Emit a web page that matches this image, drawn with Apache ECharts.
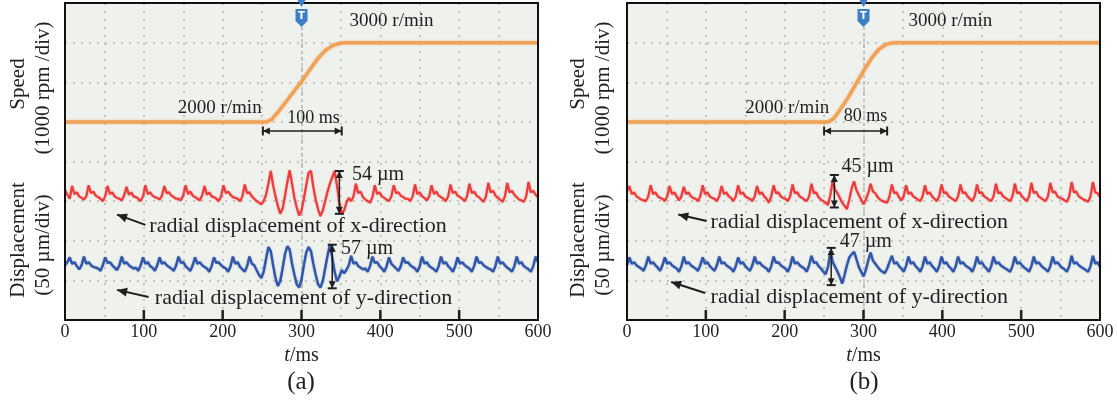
<!DOCTYPE html>
<html>
<head>
<meta charset="utf-8">
<title>Speed step and radial displacement</title>
<script src="https://cdn.jsdelivr.net/npm/echarts@6/dist/echarts.min.js"></script>
<style>
  html, body { margin: 0; padding: 0; background: #fff; }
  #chart { width: 1117px; height: 402px; }
</style>
</head>
<body>
<div id="chart"></div>
<script>
// time axis (ms)
const timeTicks = [0, 100, 200, 300, 400, 500, 600];
const sampleStepMs = 3; // displacement traces were read every 3 ms

// speed traces, [ms, r/min]
const speedA = [[0, 2000], [256, 2000], [262, 2030], [270, 2120], [280, 2250], [290, 2380], [300, 2510],
  [310, 2650], [320, 2790], [330, 2900], [340, 2965], [350, 2995], [358, 3000], [600, 3000]];
const speedB = [[0, 2000], [255, 2000], [262, 2040], [270, 2150], [280, 2300], [290, 2470], [300, 2640],
  [310, 2800], [320, 2920], [328, 2975], [338, 3000], [600, 3000]];

// radial displacement, µm about each trace's own baseline
const dispXA = [6,0,-5,11,1,3,-2,-4,-6,-2, 12,2,4,-1,-3,-5,-8,-2,11,1, 3,-2,-4,-5,-7,-1,10,0,3,-2,
  -3,-5,-8,-2,12,1,3,-1,-3,-4, -6,-1,11,2,3,-1,-3,-5,-5,-7, -1,12,1,4,-1,-3,-5,-7,-1,11,
  0,3,-2,-3,-5,-8,-2,12,2,4, 0,-3,-4,-5,-8,-2,13,2,3,-2, -5,-8,-10,-12,-8,0,14,30,12,-2,
  -14,-24,-18,-2,16,31,14,-4,-16,-26, -20,-5,12,28,30,10,-6,-18,-27,-20, -8,4,14,22,30,12,-10,-24,-20,-10,
  -4,-8,-2,14,2,4,-3,-6,-8,-10, -3,12,1,3,-2,-4,-6,-8,-2,12, 2,3,-1,-3,-5,-5,-8,-2,13,1,
  3,-2,-4,-7,-2,12,1,4,-1,-3, -5,-8,-2,13,2,4,-1,-3,-5,-8, -2,14,2,4,-1,-3,-6,-9,-2,15,
  3,5,-1,-4,-6,-9,-2,15,3,5, 0,-3,-6,-7,-9,-2,16,3,5,0, -3];
const dispYA = [-2,2,8,0,2,-3,-7,-2,9,0, 2,-2,-4,-5,-6,-9,-2,8,1,2, -2,-5,-8,-2,9,0,2,-2,-4,-6,
  -5,-9,-2,8,0,2,-3,-5,-9,-2, 8,0,2,-2,-4,-6,-9,-2,9,1, 2,-3,-6,-9,-2,8,0,2,-2,-4,
  -6,-10,-3,8,1,2,-2,-4,-6,-10, -3,9,0,2,-4,-7,-10,-3,9,0, -2,-8,-14,-18,-10,6,21,16,-2,-18,
  -28,-22,-6,12,22,18,0,-14,-26,-30, -20,-2,14,21,16,0,-14,-26,-30,-22, -6,10,24,8,-10,-22,-16,-8,-12,-8,
  -2,10,0,2,-3,-5,-7,-6,-10,-3, 9,1,2,-3,-6,-10,-3,8,0,-3, -6,-9,-3,8,1,2,-2,-4,-6,-10,
  -3,9,0,2,-3,-5,-7,-10,-3,9, 0,2,-3,-6,-10,-3,8,0,2,-2, -4,-6,-10,-3,9,1,2,-2,-4,-6,
  -7,-10,-3,9,0,2,-2,-5,-7,-10, -3,9,0,2,-3,-5,-7,-10,-3,9, 2];
const dispXB = [4,11,1,3,-2,-4,-6,-7,-8,-2, 12,1,3,-2,-4,-5,-8,-2,11,1, 3,-2,-7,-2,10,1,3,-2,-4,-5,
  -8,-2,12,1,3,-2,-4,-5,-8,-2, 11,1,3,-2,-4,-8,-2,12,1,3, -2,-4,-5,-8,-2,11,1,3,-2,-5,
  -10,-2,12,2,3,-2,-4,-5,-8,-2, 13,2,3,-2,-4,-6,-8,-2,14,2, 3,-3,-6,-8,-10,-13,0,18,6,2,
  -4,-10,-14,-18,-6,8,17,6,0,-6, -12,-6,2,14,4,2,-3,-6,-8,-9, -10,-2,13,2,3,-3,-7,-2,12,1,
  3,-2,-4,-6,-8,-2,12,1,3,-2, -5,-8,-2,13,2,3,-2,-4,-6,-8, -2,13,2,3,-2,-5,-8,-2,13,2,
  3,-2,-4,-6,-8,-2,14,2,3,-2, -4,-6,-8,-2,14,2,3,-2,-5,-8, -2,15,2,4,-2,-4,-6,-8,-2,15,
  3,4,-2,-4,-5,-7,-9,-2,16,3, 4,-2,-4,-6,-7,-9,-2,16,3,2, -3];
const dispYB = [-2,8,0,2,-2,-4,-6,-9,-2,9, 0,2,-2,-5,-9,-2,8,0,2,-2, -4,-6,-10,-3,9,0,2,-2,-4,-6,
  -9,-2,8,0,2,-3,-6,-9,-2,9, 0,2,-2,-4,-6,-10,-3,8,0,2, -3,-6,-9,-2,9,0,2,-2,-4,-6,
  -10,-3,9,1,2,-2,-4,-6,-10,-3, 9,0,2,-2,-4,-6,-10,-2,10,1, 2,-3,-6,-10,-13,-4,16,2,-4,-10,
  -17,-25,-14,-2,8,12,15,6,-4,-10, -16,-8,4,14,4,0,-4,-8,-10,-12, -6,2,10,0,2,-3,-6,-10,-3,9,
  0,2,-3,-6,-10,-3,9,0,2,-3, -6,-10,-3,9,0,2,-3,-6,-10,-3, 9,0,2,-2,-4,-6,-10,-3,9,0,
  2,-3,-6,-10,-3,9,0,2,-2,-4, -6,-8,-10,-3,9,0,2,-2,-5,-7, -10,-3,9,0,2,-2,-5,-7,-10,-3,
  9,0,2,-2,-5,-7,-10,-3,10,0, 2,-2,-4,-6,-8,-10,-3,10,0,2, -4];

const FONT = '"Liberation Serif", "DejaVu Serif", serif';
const INK = '#1f1f1f';
const DOT = '#b3b8b3';

const chart = echarts.init(document.getElementById('chart'));

const panels = [
  { left: 65, speed: speedA, x: dispXA, y: dispYA },
  { left: 627, speed: speedB, x: dispXB, y: dispYB }
];

const toSeries = (vals) => vals.map((v, i) => [i * sampleStepMs, v]);

const grids = [], xAxes = [], yAxes = [], series = [];
panels.forEach((p, i) => {
  grids.push({
    left: p.left, top: 3, width: 473, height: 317, show: true,
    backgroundColor: '#eef1ec', borderWidth: 0
  });
  // main time axis with labels
  xAxes.push({
    gridIndex: i, type: 'value', min: timeTicks[0], max: timeTicks[timeTicks.length - 1], interval: 100,
    position: 'bottom',
    axisLine: { show: false, onZero: false },
    axisTick: { show: false },
    axisLabel: { fontFamily: FONT, fontSize: 18, color: INK, margin: 3 },
    splitLine: { show: false },
    name: '{i|t}/ms', nameLocation: 'middle', nameGap: 19,
    nameTextStyle: {
      fontFamily: FONT, fontSize: 20, color: INK,
      rich: { i: { fontFamily: FONT, fontSize: 20, fontStyle: 'italic', color: INK } }
    }
  });
  // 50 ms dotted grid
  xAxes.push({
    gridIndex: i, type: 'value', min: 0, max: 600, interval: 50, position: 'top',
    axisLine: { show: false, onZero: false }, axisTick: { show: false }, axisLabel: { show: false },
    splitLine: { show: true, lineStyle: { type: [2, 6], color: DOT, width: 1.5 } }
  });
  // centre line (trigger position)
  xAxes.push({
    gridIndex: i, type: 'value', min: 0, max: 600, interval: 300, position: 'top',
    axisLine: { show: false, onZero: false }, axisTick: { show: false }, axisLabel: { show: false },
    splitLine: { show: true, lineStyle: { type: [3, 3], color: '#bfc3bf', width: 2 } }
  });
  yAxes.push({
    gridIndex: i, type: 'value', min: -500, max: 3500, interval: 500,
    axisLine: { show: false, onZero: false }, axisTick: { show: false }, axisLabel: { show: false },
    splitLine: { show: true, lineStyle: { type: [2, 6], color: DOT, width: 1.5 } }
  });
  yAxes.push({ gridIndex: i, type: 'value', min: -158, max: 242, show: false });
  yAxes.push({ gridIndex: i, type: 'value', min: -71, max: 329, show: false });

  series.push({
    type: 'line', xAxisIndex: i * 3, yAxisIndex: i * 3, data: p.speed, symbol: 'none', silent: true,
    lineStyle: { color: '#f2a257', width: 3.5, shadowBlur: 2, shadowColor: 'rgba(240,150,70,0.6)' }
  });
  series.push({
    type: 'line', xAxisIndex: i * 3, yAxisIndex: i * 3 + 1, data: toSeries(p.x), symbol: 'none', silent: true,
    lineStyle: { color: '#ef3b3b', width: 2.2, shadowBlur: 1.5, shadowColor: 'rgba(239,59,59,0.5)' }
  });
  series.push({
    type: 'line', xAxisIndex: i * 3, yAxisIndex: i * 3 + 2, data: toSeries(p.y), symbol: 'none', silent: true,
    lineStyle: { color: '#3257aa', width: 2.4, shadowBlur: 1.5, shadowColor: 'rgba(50,87,170,0.5)' }
  });
});

chart.setOption({
  animation: false,
  grid: grids,
  xAxis: xAxes,
  yAxis: yAxes,
  series: series
});

// ---- annotations ----
function toPx(panel, axis, pt) {
  return chart.convertToPixel({ xAxisIndex: panel * 3, yAxisIndex: panel * 3 + axis }, pt);
}
function seg(a, b, w) {
  return { type: 'line', z: 50, shape: { x1: a[0], y1: a[1], x2: b[0], y2: b[1] }, style: { stroke: INK, lineWidth: w } };
}
function head(tip, from, len, half) {
  const dx = tip[0] - from[0], dy = tip[1] - from[1];
  const d = Math.hypot(dx, dy) || 1;
  const ux = dx / d, uy = dy / d;
  const bx = tip[0] - ux * len, by = tip[1] - uy * len;
  return {
    type: 'polygon', z: 50,
    shape: { points: [tip, [bx - uy * half, by + ux * half], [bx + uy * half, by - ux * half]] },
    style: { fill: INK }
  };
}
function span(a, b) {
  const dx = b[0] - a[0], dy = b[1] - a[1], d = Math.hypot(dx, dy);
  const nx = -dy / d * 4.5, ny = dx / d * 4.5;
  return [
    seg(a, b, 1.5), head(a, b, 7, 3.5), head(b, a, 7, 3.5),
    seg([a[0] - nx, a[1] - ny], [a[0] + nx, a[1] + ny], 2),
    seg([b[0] - nx, b[1] - ny], [b[0] + nx, b[1] + ny], 2)
  ];
}
function pointer(from, tip) {
  return [seg(from, tip, 2), head(tip, from, 10, 4.5)];
}
function label(pt, text, size, align) {
  align = align || 'left';
  return {
    type: 'text', z: 50, x: pt[0], y: pt[1],
    style: {
      text: text, font: size + 'px ' + FONT, fill: INK,
      textAlign: align, textVerticalAlign: 'middle', align: align, verticalAlign: 'middle'
    }
  };
}
function vlabel(x, y, text) {
  return {
    type: 'text', z: 50, x: x, y: y, rotation: Math.PI / 2,
    style: {
      text: text, font: '21px ' + FONT, fill: INK,
      textAlign: 'center', textVerticalAlign: 'middle', align: 'center', verticalAlign: 'middle'
    }
  };
}
function frame(panel) {
  const tl = toPx(panel, 0, [0, 3500]);
  const br = toPx(panel, 0, [600, -500]);
  const out = [{
    type: 'rect', z: 60, shape: { x: tl[0], y: tl[1], width: br[0] - tl[0], height: br[1] - tl[1] },
    style: { fill: 'none', stroke: '#111', lineWidth: 2 }
  }];
  // inward ticks on the time axis
  for (let k = 1; k < timeTicks.length - 1; k++) {
    const x = toPx(panel, 0, [timeTicks[k], -500])[0];
    out.push(seg([x, br[1]], [x, br[1] - 10], 2.5));
  }
  return out;
}
function trigger(panel) {
  const cx = toPx(panel, 0, [300, 0])[0];
  return [
    { type: 'polygon', z: 61, shape: { points: [[cx - 4, 0], [cx + 4, 0], [cx, 7]] }, style: { fill: '#3b7fc4' } },
    { type: 'polygon', z: 61, shape: { points: [[cx - 6, 9], [cx + 6, 9], [cx + 6, 21], [cx, 27], [cx - 6, 21]] }, style: { fill: '#3b7fc4' } },
    {
      type: 'text', z: 62, x: cx, y: 16,
      style: { text: 'T', font: 'bold 10px "DejaVu Sans"', fill: '#fff', textAlign: 'center', textVerticalAlign: 'middle', align: 'center', verticalAlign: 'middle' }
    }
  ];
}

const S = 0, X = 1, Y = 2;
let g = [];
// panel (a)
g = g.concat(
  frame(0), trigger(0),
  label(toPx(0, S, [361, 3278]), '3000 r/min', 19),
  label(toPx(0, S, [143, 2177]), '2000 r/min', 19),
  label(toPx(0, S, [282, 2050]), '100 ms', 18),
  span(toPx(0, S, [251, 1885]), toPx(0, S, [351, 1885])),
  span(toPx(0, X, [348, 30]), toPx(0, X, [348, -24])),
  label(toPx(0, X, [364, 25]), '54 µm', 20),
  label(toPx(0, X, [107, -40]), 'radial displacement of x-direction', 22),
  pointer(toPx(0, X, [102, -38]), toPx(0, X, [66, -25])),
  span(toPx(0, Y, [339, 24]), toPx(0, Y, [339, -31])),
  label(toPx(0, Y, [350, 19]), '57 µm', 20),
  label(toPx(0, Y, [114, -43]), 'radial displacement of y-direction', 22),
  pointer(toPx(0, Y, [106, -42]), toPx(0, Y, [66, -33]))
);
// panel (b)
g = g.concat(
  frame(1), trigger(1),
  label(toPx(1, S, [357, 3278]), '3000 r/min', 19),
  label(toPx(1, S, [150, 2177]), '2000 r/min', 19),
  label(toPx(1, S, [275, 2076]), '80 ms', 18),
  span(toPx(1, S, [250, 1885]), toPx(1, S, [330, 1885])),
  span(toPx(1, X, [263, 25]), toPx(1, X, [263, -16])),
  label(toPx(1, X, [272, 35]), '45 µm', 20),
  label(toPx(1, X, [106, -34]), 'radial displacement of x-direction', 22),
  pointer(toPx(1, X, [101, -33]), toPx(1, X, [65, -25])),
  span(toPx(1, Y, [259, 20]), toPx(1, Y, [259, -27])),
  label(toPx(1, Y, [270, 28]), '47 µm', 20),
  label(toPx(1, Y, [106, -42]), 'radial displacement of y-direction', 22),
  pointer(toPx(1, Y, [99, -37]), toPx(1, Y, [56, -23]))
);
// rotated axis titles and panel captions
g.push(
  vlabel(18, 84, 'Speed'), vlabel(43, 88, '(1000 rpm /div)'),
  vlabel(18, 240, 'Displacement'), vlabel(43, 245, '(50 µm/div)'),
  vlabel(578, 84, 'Speed'), vlabel(603, 88, '(1000 rpm /div)'),
  vlabel(578, 240, 'Displacement'), vlabel(603, 245, '(50 µm/div)'),
  label([301, 382], '(a)', 25, 'center'),
  label([864, 382], '(b)', 25, 'center')
);

chart.setOption({ graphic: g });
</script>
</body>
</html>
